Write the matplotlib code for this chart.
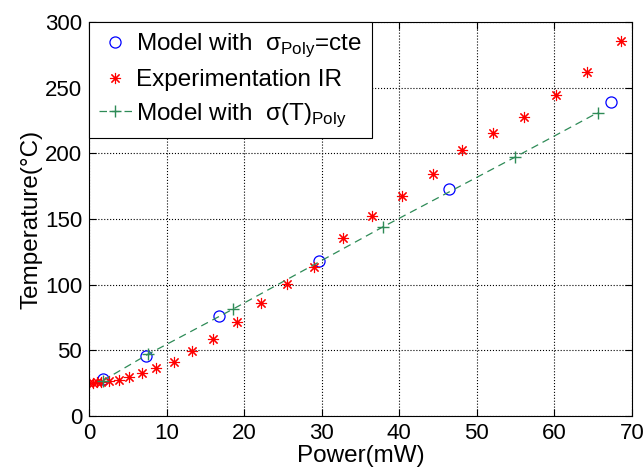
import matplotlib
matplotlib.use("Agg")
import matplotlib.pyplot as plt

plt.rcParams['font.family'] = ['Liberation Sans', 'DejaVu Sans']
plt.rcParams['mathtext.fontset'] = 'custom'
plt.rcParams['mathtext.rm'] = 'Liberation Sans'

# model with constant sigma (blue circles)
p_cte = [1.8, 7.4, 16.8, 29.7, 46.4, 67.3]
t_cte = [28, 46, 76, 118, 173, 239]

# IR experiment (red stars)
p_ir = [0.0, 0.5, 1.0, 1.6, 2.6, 3.9, 5.2, 6.8, 8.7, 10.9, 13.3, 16.0, 19.1, 22.2, 25.5, 29.0,
        32.7, 36.5, 40.4, 44.3, 48.1, 52.1, 56.1, 60.2, 64.2, 68.6]
t_ir = [25, 25.5, 26, 26, 27, 27.5, 29.7, 32.6, 36.5, 41, 49.5, 59, 71.5, 86, 100.5, 113.5,
        135.6, 152, 167.6, 184, 202.6, 215.6, 227.7, 244.5, 262, 285.6]

# model with sigma(T) (green dashed + markers)
p_t = [1.8, 7.6, 18.6, 37.9, 54.9, 65.6]
t_t = [27, 47, 81.5, 144, 197, 231]

fig = plt.figure(figsize=(6.43, 4.68), dpi=100)
ax = fig.add_axes([0.1384, 0.1111, 0.8445, 0.842])

ax.plot(p_cte, t_cte, 'o', color='blue', mfc='none', markersize=8, mew=0.9,
        label='Model with  σ$_{\\mathregular{Poly}}$=cte')
ax.plot(p_ir, t_ir, linestyle='none', marker=(8, 2, 0), color='red', markersize=8, mew=0.8,
        label='Experimentation IR')
ax.plot(p_t, t_t, '--', marker='+', color='seagreen', markersize=9, lw=0.9, mew=1.0,
        dashes=(6, 4), label='Model with  σ(T)$_{\\mathregular{Poly}}$')

ax.set_xlim(0, 70)
ax.set_ylim(0, 300)
ax.set_xticks(range(0, 71, 10))
ax.set_yticks(range(0, 301, 50))
ax.grid(True, linestyle=':', color='black', lw=0.8)
ax.tick_params(direction='in', top=True, right=True, labelsize=16, length=5, pad=5)
ax.set_xlabel('Power(mW)', fontsize=17.5, labelpad=1)
ax.set_ylabel('Temperature(°C)', fontsize=17.5, labelpad=2)

leg = ax.legend(loc='upper left', fontsize=17.5, fancybox=False, edgecolor='black',
                framealpha=1, borderaxespad=0, handlelength=1.35, handletextpad=0.2,
                labelspacing=0.4, borderpad=0.4)
leg.get_frame().set_linewidth(0.8)

fig.savefig('out.png', dpi=100)
